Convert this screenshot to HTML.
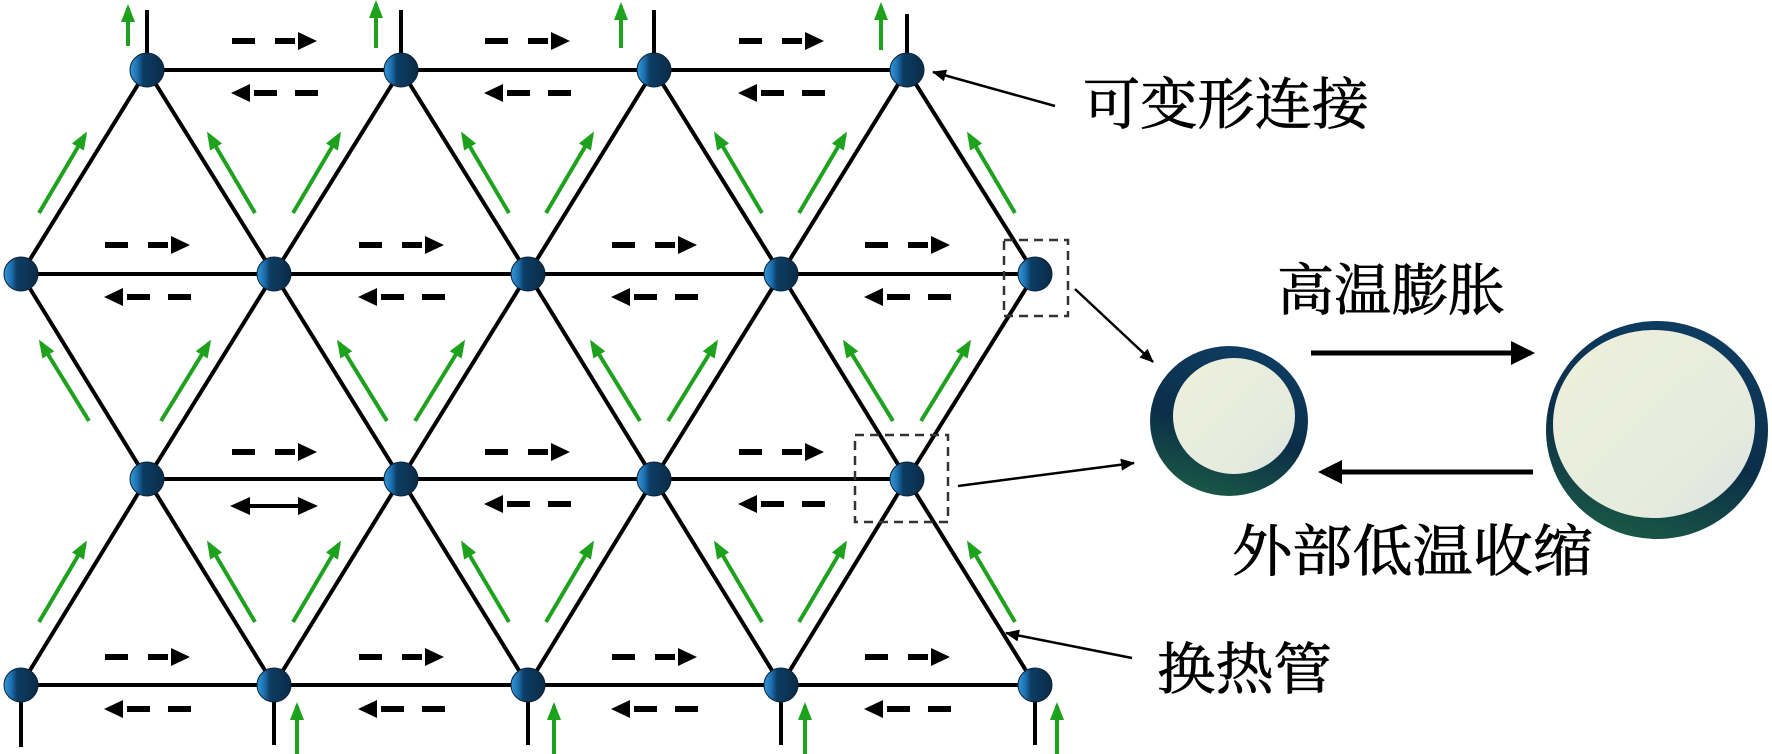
<!DOCTYPE html>
<html><head><meta charset="utf-8"><style>html,body{margin:0;padding:0;background:#fff}svg{display:block}</style></head>
<body>
<svg width="1772" height="754" viewBox="0 0 1772 754" xmlns="http://www.w3.org/2000/svg">
<defs>
<marker id="gh" markerUnits="userSpaceOnUse" markerWidth="18" markerHeight="14" refX="14" refY="7" orient="auto"><path d="M0,0 L18,7 L0,14 z" fill="#1ea21e"/></marker>
<marker id="kh" markerUnits="userSpaceOnUse" markerWidth="14" markerHeight="12" refX="13" refY="6" orient="auto"><path d="M0,0 L14,6 L0,12 z" fill="#000"/></marker>
<marker id="bh" markerUnits="userSpaceOnUse" markerWidth="24" markerHeight="24" refX="20" refY="12" orient="auto"><path d="M0,0 L24,12 L0,24 z" fill="#000"/></marker>
<linearGradient id="ng" x1="0" y1="0" x2="1" y2="0">
<stop offset="0" stop-color="#3498d8"/><stop offset="0.22" stop-color="#1c6fae"/><stop offset="0.38" stop-color="#0d3d64"/><stop offset="1" stop-color="#0a2b47"/></linearGradient>
<linearGradient id="ring" x1="0.6" y1="0" x2="0.3" y2="1">
<stop offset="0" stop-color="#0e3c62"/><stop offset="0.55" stop-color="#0b2e48"/><stop offset="1" stop-color="#1b5a45"/></linearGradient>
<linearGradient id="face" x1="0" y1="0" x2="1" y2="1">
<stop offset="0" stop-color="#eef0dc"/><stop offset="0.7" stop-color="#e6ebdc"/><stop offset="1" stop-color="#d8e2e6"/></linearGradient>
<g id="ra"><rect x="-42" y="-3" width="23" height="6"/><rect x="1" y="-3" width="20" height="6"/><path d="M24,-9 L43,0 L24,9 z"/></g>
<g id="la"><path d="M-43,0 L-24,-9 L-24,9 z"/><rect x="-20" y="-3" width="23" height="6"/><rect x="21" y="-3" width="23" height="6"/></g>
</defs>

<g stroke="#000" stroke-width="4" fill="none">
<line x1="147" y1="70" x2="907" y2="70"/>
<line x1="21" y1="274" x2="1035" y2="274"/>
<line x1="147" y1="479" x2="907" y2="479"/>
<line x1="21" y1="685" x2="1035" y2="685"/>
<polyline points="21,274 147,70 274,274 401,70 528,274 654,70 781,274 907,70 1035,274"/>
<polyline points="21,274 147,479 274,274 401,479 528,274 654,479 781,274 907,479 1035,274"/>
<polyline points="21,685 147,479 274,685 401,479 528,685 654,479 781,685 907,479 1035,685"/>
<line x1="147" y1="70" x2="147" y2="10"/><line x1="401" y1="70" x2="401" y2="10"/><line x1="654" y1="70" x2="654" y2="10"/><line x1="907" y1="70" x2="907" y2="14"/>
<line x1="21" y1="685" x2="21" y2="747"/><line x1="274" y1="685" x2="274" y2="745"/><line x1="528" y1="685" x2="528" y2="745"/><line x1="781" y1="685" x2="781" y2="745"/><line x1="1035" y1="685" x2="1035" y2="745"/>
</g>

<g stroke="#1ea21e" stroke-width="4" marker-end="url(#gh)">
<line x1="39" y1="213" x2="85" y2="135"/><line x1="255" y1="213" x2="209" y2="135"/>
<line x1="293" y1="213" x2="339" y2="135"/><line x1="509" y1="213" x2="463" y2="135"/>
<line x1="546" y1="213" x2="592" y2="135"/><line x1="762" y1="213" x2="716" y2="135"/>
<line x1="799" y1="213" x2="845" y2="135"/><line x1="1015" y1="213" x2="969" y2="135"/>

<line x1="39" y1="622" x2="85" y2="544"/><line x1="255" y1="622" x2="209" y2="544"/>
<line x1="293" y1="622" x2="339" y2="544"/><line x1="509" y1="622" x2="463" y2="544"/>
<line x1="546" y1="622" x2="592" y2="544"/><line x1="762" y1="622" x2="716" y2="544"/>
<line x1="799" y1="622" x2="845" y2="544"/><line x1="1015" y1="622" x2="969" y2="544"/>

<line x1="89" y1="421" x2="41" y2="343"/><line x1="161" y1="421" x2="209" y2="343"/>
<line x1="387" y1="421" x2="339" y2="343"/><line x1="415" y1="421" x2="463" y2="343"/>
<line x1="640" y1="421" x2="592" y2="343"/><line x1="668" y1="421" x2="716" y2="343"/>
<line x1="893" y1="421" x2="845" y2="343"/><line x1="921" y1="421" x2="969" y2="343"/>

<line x1="128" y1="46" x2="128" y2="8"/><line x1="376" y1="48" x2="376" y2="4"/><line x1="621" y1="48" x2="621" y2="6"/><line x1="881" y1="50" x2="881" y2="6"/>
<line x1="297" y1="754" x2="297" y2="706"/><line x1="554" y1="754" x2="554" y2="706"/><line x1="805" y1="754" x2="805" y2="706"/><line x1="1057" y1="754" x2="1057" y2="706"/>
</g>

<g fill="#000">
<use href="#ra" x="274" y="41"/><use href="#ra" x="527" y="41"/><use href="#ra" x="781" y="41"/>
<use href="#la" x="274" y="93"/><use href="#la" x="527" y="93"/><use href="#la" x="781" y="93"/>
<use href="#ra" x="147" y="245"/><use href="#ra" x="401" y="245"/><use href="#ra" x="654" y="245"/><use href="#ra" x="907" y="245"/>
<use href="#la" x="147" y="297"/><use href="#la" x="401" y="297"/><use href="#la" x="654" y="297"/><use href="#la" x="907" y="297"/>
<use href="#ra" x="274" y="452"/><use href="#ra" x="527" y="452"/><use href="#ra" x="781" y="452"/>
<use href="#la" x="527" y="504"/><use href="#la" x="781" y="504"/>
<use href="#ra" x="147" y="657"/><use href="#ra" x="401" y="657"/><use href="#ra" x="654" y="657"/><use href="#ra" x="907" y="657"/>
<use href="#la" x="147" y="709"/><use href="#la" x="401" y="709"/><use href="#la" x="654" y="709"/><use href="#la" x="907" y="709"/>
</g>
<g>
<line x1="250" y1="506" x2="300" y2="506" stroke="#000" stroke-width="4"/>
<path d="M230,506 L250,497 L250,515 z M318,506 L298,497 L298,515 z" fill="#000"/>
</g>

<g fill="url(#ng)" stroke="#0a2238" stroke-width="1">
<circle cx="147" cy="70" r="17"/><circle cx="401" cy="70" r="17"/><circle cx="654" cy="70" r="17"/><circle cx="907" cy="70" r="17"/>
<circle cx="21" cy="274" r="17"/><circle cx="274" cy="274" r="17"/><circle cx="528" cy="274" r="17"/><circle cx="781" cy="274" r="17"/><circle cx="1035" cy="274" r="17"/>
<circle cx="147" cy="479" r="17"/><circle cx="401" cy="479" r="17"/><circle cx="654" cy="479" r="17"/><circle cx="907" cy="479" r="17"/>
<circle cx="21" cy="685" r="17"/><circle cx="274" cy="685" r="17"/><circle cx="528" cy="685" r="17"/><circle cx="781" cy="685" r="17"/><circle cx="1035" cy="685" r="17"/>
</g>

<g fill="none" stroke="#333" stroke-width="2.5" stroke-dasharray="9,6">
<rect x="1004" y="240" width="64" height="76"/>
<rect x="855" y="435" width="93" height="87"/>
</g>

<g stroke="#000" stroke-width="2.5">
<line x1="1055" y1="106" x2="933" y2="72" marker-end="url(#kh)"/>
<line x1="1075" y1="289" x2="1153" y2="362" marker-end="url(#kh)"/>
<line x1="958" y1="486" x2="1134" y2="463" marker-end="url(#kh)"/>
<line x1="1132" y1="658" x2="1006" y2="633" marker-end="url(#kh)"/>
</g>

<ellipse cx="1229" cy="421" rx="79" ry="75" fill="url(#ring)"/>
<ellipse cx="1234" cy="416" rx="61" ry="58" fill="url(#face)"/>
<ellipse cx="1657" cy="430" rx="111" ry="109" fill="url(#ring)"/>
<ellipse cx="1654" cy="424" rx="101" ry="94" fill="url(#face)"/>

<g stroke="#000" stroke-width="5">
<line x1="1311" y1="353" x2="1531" y2="353" marker-end="url(#bh)"/>
<line x1="1533" y1="472" x2="1322" y2="472" marker-end="url(#bh)"/>
</g>

<g font-family="'Liberation Serif','Noto Serif CJK SC',serif" font-size="56" fill="#000" stroke="#000" stroke-width="0.8" dominant-baseline="central">
<text x="1083" y="106" textLength="286" lengthAdjust="spacingAndGlyphs">可变形连接</text>
<text x="1277" y="292" textLength="228" lengthAdjust="spacingAndGlyphs">高温膨胀</text>
<text x="1232" y="553" textLength="361" lengthAdjust="spacingAndGlyphs">外部低温收缩</text>
<text x="1157" y="671" textLength="175" lengthAdjust="spacingAndGlyphs">换热管</text>
</g>
</svg>
</body></html>
